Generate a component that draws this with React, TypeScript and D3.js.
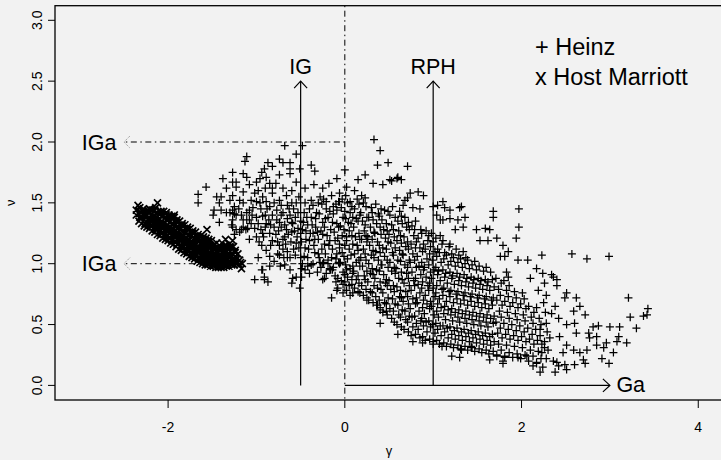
import React from "react";
import * as d3 from "d3";

// ---- axes ----
const xTicks = [-2, 0, 2, 4];
const yTicks = [0, 0.5, 1, 1.5, 2, 2.5, 3];
const yTickLabels = ["0.0", "0.5", "1.0", "1.5", "2.0", "2.5", "3.0"];
const xDomain: [number, number] = [-3.28, 4.28];
const yDomain: [number, number] = [-0.12, 3.12];
const xTitle = "γ";
const yTitle = "ν";

// ---- legend ----
const legendLines = ["+ Heinz", "x Host Marriott"];

// ---- annotation geometry (data space) ----
const vArrows = [
  { x: -0.5, y0: 0, y1: 2.5, label: "IG" },
  { x: 1, y0: 0, y1: 2.5, label: "RPH" },
];
const hArrow = { y: 0, x0: 0, x1: 3, label: "Ga" };
const dashArrows = [
  { y: 2, x0: 0, x1: -2.5, label: "IGa" },
  { y: 1, x0: 0, x1: -2.5, label: "IGa" },
];
const vDashX = 0;

// ---- Host Marriott (x markers) ----
const hostMarriott: [number, number][] = [
  [-2.36,1.40],[-2.36,1.44],[-2.33,1.35],[-2.33,1.41],[-2.34,1.48],[-2.30,1.33],[-2.31,1.38],[-2.29,1.43],[-2.32,1.46],
  [-2.27,1.31],[-2.27,1.36],[-2.26,1.40],[-2.28,1.45],[-2.24,1.30],[-2.24,1.34],[-2.25,1.39],[-2.23,1.44],
  [-2.21,1.29],[-2.21,1.33],[-2.20,1.37],[-2.22,1.42],[-2.21,1.45],[-2.18,1.27],[-2.18,1.31],[-2.17,1.36],[-2.19,1.40],[-2.18,1.44],
  [-2.15,1.26],[-2.15,1.30],[-2.14,1.35],[-2.16,1.39],[-2.15,1.44],[-2.12,1.24],[-2.12,1.29],[-2.11,1.33],[-2.13,1.38],[-2.12,1.42],[-2.12,1.50],
  [-2.09,1.23],[-2.09,1.27],[-2.08,1.32],[-2.10,1.36],[-2.09,1.41],[-2.06,1.21],[-2.06,1.26],[-2.05,1.30],[-2.07,1.35],[-2.06,1.40],[-2.05,1.43],
  [-2.03,1.20],[-2.03,1.24],[-2.02,1.29],[-2.04,1.33],[-2.03,1.38],[-2.02,1.42],[-2.00,1.19],[-2.00,1.23],[-1.99,1.27],[-2.01,1.32],[-2.00,1.36],[-1.99,1.40],
  [-1.97,1.17],[-1.97,1.21],[-1.96,1.26],[-1.98,1.30],[-1.97,1.35],[-1.96,1.39],[-1.94,1.16],[-1.94,1.20],[-1.93,1.24],[-1.95,1.29],[-1.94,1.33],[-1.93,1.38],[-1.93,1.40],
  [-1.91,1.14],[-1.91,1.18],[-1.90,1.23],[-1.92,1.27],[-1.91,1.32],[-1.90,1.36],[-1.88,1.12],[-1.88,1.17],[-1.87,1.21],[-1.89,1.26],[-1.88,1.30],[-1.87,1.35],
  [-1.85,1.11],[-1.85,1.15],[-1.84,1.20],[-1.86,1.24],[-1.85,1.29],[-1.84,1.33],[-1.82,1.09],[-1.82,1.14],[-1.81,1.18],[-1.83,1.23],[-1.82,1.27],[-1.81,1.32],
  [-1.79,1.08],[-1.79,1.12],[-1.78,1.17],[-1.80,1.21],[-1.79,1.26],[-1.78,1.30],[-1.76,1.06],[-1.76,1.11],[-1.75,1.15],[-1.77,1.20],[-1.76,1.24],[-1.75,1.29],
  [-1.73,1.05],[-1.73,1.09],[-1.72,1.14],[-1.74,1.18],[-1.73,1.23],[-1.72,1.27],[-1.70,1.04],[-1.70,1.08],[-1.69,1.12],[-1.71,1.17],[-1.70,1.21],[-1.69,1.26],
  [-1.67,1.02],[-1.67,1.07],[-1.66,1.11],[-1.68,1.16],[-1.67,1.20],[-1.66,1.24],[-1.64,1.01],[-1.64,1.05],[-1.63,1.10],[-1.65,1.14],[-1.64,1.19],[-1.63,1.23],
  [-1.61,1.00],[-1.61,1.04],[-1.60,1.09],[-1.62,1.13],[-1.61,1.18],[-1.60,1.22],[-1.58,0.99],[-1.58,1.03],[-1.57,1.08],[-1.59,1.12],[-1.58,1.17],[-1.57,1.21],
  [-1.55,0.99],[-1.55,1.03],[-1.54,1.07],[-1.56,1.11],[-1.55,1.16],[-1.54,1.20],[-1.56,1.28],[-1.52,0.98],[-1.52,1.02],[-1.51,1.06],[-1.53,1.10],[-1.52,1.15],[-1.51,1.19],
  [-1.49,0.98],[-1.49,1.02],[-1.48,1.06],[-1.50,1.10],[-1.49,1.14],[-1.46,0.97],[-1.46,1.01],[-1.45,1.05],[-1.47,1.09],[-1.46,1.13],[-1.45,1.17],
  [-1.43,0.97],[-1.43,1.01],[-1.42,1.05],[-1.44,1.09],[-1.43,1.13],[-1.40,0.97],[-1.40,1.00],[-1.39,1.04],[-1.41,1.08],[-1.40,1.12],[-1.39,1.17],
  [-1.37,0.97],[-1.37,1.01],[-1.36,1.05],[-1.38,1.09],[-1.37,1.14],[-1.34,0.98],[-1.34,1.02],[-1.33,1.06],[-1.35,1.10],[-1.34,1.15],[-1.35,1.20],
  [-1.31,0.98],[-1.31,1.02],[-1.30,1.07],[-1.32,1.12],[-1.31,1.16],[-1.28,0.99],[-1.28,1.03],[-1.27,1.08],[-1.29,1.13],[-1.27,1.19],
  [-1.25,0.99],[-1.25,1.04],[-1.24,1.09],[-1.26,1.14],[-1.22,1.00],[-1.22,1.04],[-1.21,1.08],[-1.19,0.99],[-1.19,1.03],[-1.16,1.00],[-1.17,0.96],
];

const hostMarriottFill: [number, number][] = [
  [-2.32,1.38],[-2.32,1.43],[-2.26,1.33],[-2.26,1.38],[-2.26,1.42],[-2.20,1.31],[-2.20,1.35],[-2.20,1.40],[-2.20,1.44],
  [-2.14,1.28],[-2.14,1.32],[-2.14,1.37],[-2.14,1.41],[-2.14,1.46],[-2.08,1.25],[-2.08,1.30],[-2.08,1.34],[-2.08,1.39],[-2.08,1.43],
  [-2.02,1.22],[-2.02,1.27],[-2.02,1.31],[-2.02,1.36],[-2.02,1.40],[-1.96,1.19],[-1.96,1.23],[-1.96,1.28],[-1.96,1.32],[-1.96,1.37],
  [-1.90,1.16],[-1.90,1.20],[-1.90,1.25],[-1.90,1.29],[-1.90,1.34],[-1.84,1.13],[-1.84,1.17],[-1.84,1.22],[-1.84,1.26],[-1.84,1.31],
  [-1.78,1.10],[-1.78,1.14],[-1.78,1.19],[-1.78,1.23],[-1.78,1.28],[-1.72,1.07],[-1.72,1.11],[-1.72,1.16],[-1.72,1.20],[-1.72,1.25],
  [-1.66,1.04],[-1.66,1.09],[-1.66,1.13],[-1.66,1.18],[-1.66,1.22],[-1.60,1.02],[-1.60,1.06],[-1.60,1.11],[-1.60,1.15],[-1.60,1.20],
  [-1.54,1.01],[-1.54,1.05],[-1.54,1.09],[-1.54,1.13],[-1.54,1.18],[-1.48,1.00],[-1.48,1.04],[-1.48,1.08],[-1.48,1.12],[-1.48,1.16],
  [-1.42,0.99],[-1.42,1.03],[-1.42,1.07],[-1.42,1.11],[-1.42,1.15],[-1.36,0.99],[-1.36,1.03],[-1.36,1.07],[-1.36,1.12],
  [-1.30,1.00],[-1.30,1.05],[-1.30,1.10],[-1.30,1.14],[-1.24,1.01],[-1.24,1.06],[-1.24,1.11],[-1.18,1.01],
];

// ---- Heinz (+ markers) ----
const heinzUpper: [number, number][] = [
  [0.33,2.02],[0.40,1.93],[0.49,1.83],[0.37,1.81],[-0.68,1.97],[-0.48,1.97],[-0.55,1.90],[-1.11,1.88],[-1.13,1.84],[-0.87,1.83],
  [-0.74,1.86],[-0.70,1.83],[-0.62,1.83],[-0.38,1.81],[-0.34,1.76],[-0.62,1.78],[-0.51,1.78],[-0.82,1.80],[-0.94,1.75],[-0.91,1.78],
  [-0.74,1.73],[-0.62,1.74],[0.0,1.77],[-0.09,1.70],[0.15,1.69],[0.23,1.73],[0.32,1.66],[0.43,1.65],[0.53,1.68],[0.59,1.70],
  [-1.27,1.75],[-1.23,1.67],[-1.11,1.71],[-1.08,1.65],[-1.0,1.67],[-0.96,1.70],[-0.89,1.71],[-0.85,1.66],[-0.82,1.62],[-0.55,1.67],
  [-0.60,1.60],[-1.15,1.59],[-1.02,1.58],[-0.93,1.55],[-0.82,1.58],[-0.74,1.52],[-0.89,1.51],[-1.30,1.52],[-1.25,1.47],[-1.15,1.50],
  [-1.08,1.44],[-1.0,1.51],[-0.66,1.56],[-0.65,1.48],[-0.77,1.44],[-0.85,1.47],[-0.38,1.52],[-0.28,1.55],[-0.21,1.51],[-0.13,1.47],
  [-0.06,1.58],[0.02,1.63],[0.11,1.60],[0.19,1.56],[-0.06,1.51],[0.06,1.51],
  [-1.66,1.57],[-1.57,1.63],[-1.45,1.55],[-1.42,1.50],[-1.48,1.44],[-1.42,1.34],[-1.15,1.74],[-1.27,1.67],[-1.38,1.70],[-1.34,1.62],
  [-1.27,1.56],[-1.23,1.63],[-1.19,1.52],[-1.49,1.40],[-1.34,1.42],[-1.27,1.44],[-1.27,1.36],[-1.15,1.36],[-1.11,1.42],
  [-1.66,1.50],[-1.40,1.55],[-1.06,1.52],[-1.40,1.44],[-1.25,1.41],[-1.17,1.40],[-1.28,1.32],[-1.23,1.28],[-1.17,1.28],[-1.11,1.36],
  [-1.06,1.33],[-1.25,1.24],[-1.19,1.26],[-1.10,1.29],
];

const heinzLeft: [number, number][] = [
  [-1.23,1.40],[-1.15,1.30],[-1.27,1.30],[-1.30,1.42],[-1.08,1.36],[-1.02,1.29],[-0.93,1.39],[-0.89,1.33],[-0.85,1.25],[-0.77,1.36],
  [-0.72,1.40],[-0.65,1.37],[-0.59,1.33],[-0.53,1.29],[-0.60,1.26],[-0.68,1.22],[-0.93,1.25],[-0.82,1.19],[-0.94,1.15],[-0.89,1.11],
  [-0.74,1.15],[-0.65,1.10],[-0.55,1.17],[-0.45,1.13],[-0.40,1.19],[-0.34,1.09],[-0.42,1.05],[-0.85,1.06],[-0.74,1.07],[-0.65,1.05],
  [-0.68,0.99],[-0.94,0.95],[-0.91,0.89],[-0.85,0.98],[-0.49,0.96],[-0.55,0.89],[-0.38,0.99],[-0.28,1.01],[-0.31,0.93],[-0.19,1.03],
  [-0.17,0.96],[-1.02,0.87],[-0.93,0.95],[-0.91,0.87],[-0.87,0.85],[-0.60,0.84],[-0.59,0.88],[-0.49,0.89],[-0.51,0.80],[-0.25,0.87],
  [-1.05,1.40],[-0.98,1.33],[-1.0,1.22],[-0.95,1.28],[-0.9,1.40],[-0.86,1.36],[-0.8,1.30],[-0.78,1.24],[-0.72,1.30],[-0.7,1.20],
  [-0.66,1.28],[-0.62,1.40],[-0.58,1.45],[-0.56,1.38],[-0.54,1.22],[-0.5,1.35],[-0.48,1.28],[-0.46,1.42],[-0.44,1.20],[-0.42,1.32],
  [-0.40,1.45],[-0.38,1.38],[-0.36,1.25],[-0.35,1.15],[-0.33,1.30],[-0.32,1.42],[-0.3,1.08],[-0.5,1.05],[-0.58,1.12],[-0.62,1.05],
  [-0.7,1.12],[-0.76,1.08],[-0.8,1.02],[-0.45,1.50],[-0.52,1.55],[-0.6,1.50],[-0.7,1.42],[-0.95,1.45],[-1.12,1.28],[-1.2,1.45],
  [-0.98,1.60],[-0.9,1.62],[-0.78,1.66],[-0.7,1.62],[-0.45,1.62],[-0.35,1.65],[-0.25,1.62],[-0.18,1.66],[-0.42,0.98],[-0.36,1.0],
  [-0.25,1.0],[-0.22,1.08],[-0.48,1.0],[-0.45,0.95],[-0.40,0.92],
  [-1.08,1.2],[-1.04,1.46],[-1.0,1.38],[-0.97,1.18],[-0.96,1.5],[-0.92,1.22],[-0.9,1.3],[-0.88,1.45],[-0.84,1.15],[-0.84,1.32],
  [-0.82,1.4],[-0.8,1.5],[-0.76,1.18],[-0.75,1.27],[-0.74,1.34],[-0.72,1.48],[-0.69,1.05],[-0.68,1.32],[-0.67,1.16],[-0.64,1.24],
  [-0.63,1.45],[-0.61,1.18],[-0.6,1.34],[-0.57,1.27],[-0.56,1.07],[-0.55,1.5],[-0.53,1.42],[-0.52,1.13],[-0.5,1.25],[-0.49,1.18],
  [-0.47,1.34],[-0.46,1.06],[-0.44,1.27],[-0.43,1.38],[-0.41,1.12],[-0.39,1.25],[-0.37,1.32],[-0.36,1.48],[-0.34,1.2],[-0.33,1.37],
  [-0.31,1.26],[-0.3,1.5],[-0.98,1.05],[-0.73,0.98],[-0.62,0.95],
];

const heinzCoreA: [number, number][] = [
  [-0.27,0.97],[-0.29,1.05],[-0.26,1.12],[-0.3,1.2],[-0.27,1.27],[-0.25,1.34],[-0.29,1.41],[-0.26,1.49],
  [-0.21,0.92],[-0.19,1.0],[-0.22,1.08],[-0.18,1.15],[-0.2,1.23],[-0.23,1.3],[-0.19,1.38],[-0.21,1.45],
  [-0.11,0.9],[-0.13,0.97],[-0.1,1.04],[-0.14,1.12],[-0.11,1.19],[-0.12,1.26],[-0.09,1.33],[-0.13,1.41],[-0.1,1.49],
  [-0.04,0.86],[-0.02,0.93],[-0.05,1.01],[-0.03,1.09],[-0.06,1.16],[-0.03,1.23],[-0.05,1.31],[-0.02,1.38],[-0.04,1.46],[-0.03,1.53],
  [0.05,0.82],[0.03,0.89],[0.06,0.96],[0.03,1.04],[0.05,1.12],[0.02,1.19],[0.05,1.27],[0.04,1.34],[0.06,1.42],[0.03,1.5],
  [0.11,0.8],[0.13,0.87],[0.1,0.94],[0.13,1.01],[0.11,1.08],[0.14,1.15],[0.12,1.22],[0.1,1.3],[0.13,1.37],[0.11,1.45],[0.14,1.53],
  [0.21,0.74],[0.19,0.82],[0.22,0.9],[0.2,0.98],[0.18,1.05],[0.21,1.12],[0.19,1.2],[0.22,1.27],[0.2,1.35],[0.18,1.42],[0.21,1.5],
  [0.27,0.7],[0.29,0.77],[0.26,0.85],[0.29,0.92],[0.27,1.0],[0.3,1.07],[0.28,1.15],[0.26,1.22],[0.29,1.3],[0.27,1.38],[0.3,1.46],
  [0.37,0.66],[0.35,0.73],[0.37,0.8],[0.34,0.88],[0.36,0.95],[0.38,1.03],[0.35,1.1],[0.37,1.18],[0.34,1.25],[0.36,1.33],[0.38,1.41],[0.35,1.49],
  [0.43,0.6],[0.45,0.68],[0.43,0.76],[0.46,0.84],[0.44,0.91],[0.42,0.99],[0.45,1.06],[0.43,1.13],[0.46,1.21],[0.44,1.28],[0.42,1.36],[0.45,1.44],
  [0.53,0.55],[0.51,0.63],[0.54,0.71],[0.52,0.79],[0.5,0.86],[0.53,0.94],[0.51,1.01],[0.54,1.09],[0.52,1.17],[0.5,1.24],[0.53,1.32],[0.51,1.4],
  [0.59,0.5],[0.61,0.58],[0.6,0.66],[0.62,0.73],[0.59,0.81],[0.61,0.88],[0.58,0.96],[0.6,1.03],[0.62,1.11],[0.59,1.19],[0.61,1.27],[0.6,1.35],[0.62,1.43],
  [0.67,0.46],[0.69,0.54],[0.68,0.61],[0.66,0.69],[0.69,0.77],[0.67,0.84],[0.7,0.92],[0.68,0.99],[0.66,1.07],[0.69,1.14],[0.67,1.22],[0.7,1.3],[0.68,1.38],
  [-0.23,0.88],[-0.10,0.85],[-0.08,0.80],[-0.15,0.72],[0.0,0.85],[0.02,0.78],[0.08,0.83],[0.09,0.76],[0.15,0.77],[0.25,0.72],
  [0.36,0.66],[0.40,0.62],[0.47,0.61],[-0.09,0.78],[-0.02,0.76],[0.06,0.74],[-0.02,0.83],[-0.14,0.95],[-0.06,1.00],[0.02,0.95],
  [0.09,0.98],[0.17,0.76],[0.25,0.70],[0.40,0.51],[0.60,0.42],
];

const heinzCoreAFill: [number, number][] = [
  [-0.24,1.01],[-0.23,1.16],[-0.25,1.24],[-0.22,1.37],[-0.24,1.53],
  [-0.16,0.95],[-0.15,1.05],[-0.17,1.19],[-0.16,1.28],[-0.14,1.34],[-0.17,1.43],[-0.15,1.56],
  [-0.08,0.88],[-0.07,1.01],[-0.09,1.08],[-0.06,1.13],[-0.08,1.21],[-0.07,1.3],[-0.09,1.44],[-0.07,1.51],
  [0.0,0.91],[0.01,0.99],[-0.01,1.06],[0.0,1.15],[0.02,1.22],[-0.01,1.28],[0.01,1.37],[0.0,1.43],[0.01,1.56],
  [0.08,0.87],[0.09,0.92],[0.07,1.07],[0.09,1.16],[0.08,1.23],[0.07,1.33],[0.09,1.38],[0.08,1.47],
  [0.16,0.84],[0.15,0.9],[0.17,0.98],[0.16,1.03],[0.15,1.11],[0.17,1.2],[0.16,1.25],[0.15,1.35],[0.17,1.4],[0.16,1.49],
  [0.24,0.79],[0.23,0.87],[0.25,0.94],[0.24,1.03],[0.23,1.08],[0.25,1.18],[0.24,1.23],[0.23,1.32],[0.25,1.38],[0.24,1.47],[0.23,1.54],
  [0.32,0.68],[0.31,0.76],[0.33,0.82],[0.32,0.91],[0.31,0.96],[0.33,1.05],[0.32,1.11],[0.31,1.2],[0.33,1.26],[0.32,1.36],[0.31,1.42],
  [0.40,0.64],[0.39,0.7],[0.41,0.79],[0.40,0.85],[0.39,0.94],[0.41,0.99],[0.40,1.09],[0.39,1.15],[0.41,1.24],[0.40,1.3],[0.39,1.39],[0.41,1.45],
  [0.48,0.58],[0.47,0.67],[0.49,0.72],[0.48,0.82],[0.47,0.87],[0.49,0.97],[0.48,1.03],[0.47,1.12],[0.49,1.18],[0.48,1.27],[0.47,1.33],[0.49,1.43],
  [0.56,0.52],[0.55,0.61],[0.57,0.67],[0.56,0.77],[0.55,0.82],[0.57,0.92],[0.56,0.97],[0.55,1.07],[0.57,1.13],[0.56,1.22],[0.55,1.28],[0.57,1.38],
  [0.64,0.48],[0.63,0.56],[0.65,0.62],[0.64,0.72],[0.63,0.78],[0.65,0.87],[0.64,0.93],[0.63,1.02],[0.65,1.08],[0.64,1.17],[0.63,1.23],[0.65,1.33],[0.64,1.39],
  [0.72,0.44],[0.71,0.52],[0.73,0.57],[0.72,0.67],[0.71,0.73],[0.73,0.82],[0.72,0.88],[0.71,0.97],[0.73,1.03],[0.72,1.12],[0.71,1.18],[0.73,1.28],[0.72,1.34],
];

const heinzCoreB: [number, number][] = [
  [0.75,0.41],[0.77,0.48],[0.76,0.56],[0.74,0.63],[0.77,0.71],[0.75,0.78],[0.78,0.86],[0.76,0.93],[0.74,1.01],[0.77,1.08],[0.75,1.16],[0.78,1.23],[0.76,1.31],
  [0.85,0.39],[0.83,0.46],[0.86,0.53],[0.84,0.61],[0.82,0.68],[0.85,0.76],[0.83,0.83],[0.86,0.91],[0.84,0.98],[0.82,1.06],[0.85,1.13],[0.83,1.21],[0.86,1.28],
  [0.91,0.37],[0.93,0.44],[0.92,0.52],[0.9,0.59],[0.93,0.67],[0.91,0.74],[0.94,0.82],[0.92,0.89],[0.9,0.97],[0.93,1.04],[0.91,1.12],[0.94,1.19],[0.92,1.27],
  [1.0,0.36],[1.02,0.43],[0.99,0.5],[1.01,0.58],[0.98,0.65],[1.02,0.73],[1.0,0.8],[0.98,0.88],[1.01,0.95],[0.99,1.03],[1.02,1.1],[1.0,1.18],[0.98,1.25],
  [1.07,0.34],[1.09,0.41],[1.08,0.49],[1.06,0.56],[1.09,0.64],[1.07,0.71],[1.1,0.79],[1.08,0.86],[1.06,0.94],[1.09,1.01],[1.07,1.09],[1.1,1.16],[1.08,1.23],
  [1.15,0.32],[1.17,0.39],[1.16,0.47],[1.14,0.54],[1.17,0.62],[1.15,0.69],[1.18,0.77],[1.16,0.84],[1.14,0.92],[1.17,0.99],[1.15,1.07],[1.18,1.14],
  [1.23,0.31],[1.25,0.38],[1.24,0.45],[1.22,0.53],[1.25,0.6],[1.23,0.68],[1.26,0.75],[1.24,0.83],[1.22,0.9],[1.25,0.98],[1.23,1.05],[1.26,1.12],
  [1.31,0.3],[1.33,0.37],[1.32,0.44],[1.3,0.52],[1.33,0.59],[1.31,0.67],[1.34,0.74],[1.32,0.82],[1.3,0.89],[1.33,0.97],[1.31,1.04],[1.34,1.1],
  [1.39,0.29],[1.41,0.36],[1.4,0.43],[1.38,0.51],[1.41,0.58],[1.39,0.66],[1.42,0.73],[1.4,0.81],[1.38,0.88],[1.41,0.96],[1.39,1.03],
  [1.47,0.28],[1.49,0.35],[1.48,0.42],[1.46,0.5],[1.49,0.57],[1.47,0.65],[1.5,0.72],[1.48,0.8],[1.46,0.87],[1.49,0.95],[1.47,1.02],
  [1.55,0.27],[1.57,0.34],[1.56,0.41],[1.54,0.49],[1.57,0.56],[1.55,0.64],[1.58,0.71],[1.56,0.79],[1.54,0.86],[1.57,0.94],
  [1.63,0.26],[1.65,0.33],[1.64,0.4],[1.62,0.48],[1.65,0.55],[1.63,0.63],[1.66,0.7],[1.64,0.78],[1.62,0.85],[1.65,0.93],
  [0.71,1.80],[0.60,1.71],[0.64,1.69],[0.51,1.69],[0.74,1.58],[0.83,1.59],[0.89,1.56],[0.59,1.54],[0.68,1.52],[0.71,1.54],
  [0.66,1.48],[0.77,1.46],[0.85,1.45],[0.54,1.47],[1.11,1.51],[1.13,1.46],[1.05,1.48],[1.32,1.47],[1.30,1.46],[1.68,1.43],
  [1.68,1.38],[1.97,1.45],[1.97,1.30],[1.94,1.21],[1.04,1.40],[1.19,1.37],[1.28,1.36],[1.36,1.38],[1.11,1.36],[1.34,1.30],
  [1.25,1.28],[1.49,1.28],[1.59,1.29],[1.64,1.28],[1.72,1.21],[1.62,1.19],[1.53,1.19],[1.79,1.15],[1.85,1.10],[1.81,1.06],
  [1.76,1.06],[1.83,0.93],[1.85,0.89],[1.0,1.47],[1.08,1.36],[1.19,1.44],
  [0.77,0.36],[0.88,0.35],[1.0,0.34],[1.10,0.32],[1.21,0.24],[1.30,0.23],[1.32,0.29],[1.43,0.32],[1.64,0.21],[1.79,0.20],
  [1.81,0.23],[1.72,0.24],[1.79,0.18],
];

const heinzCoreBFill: [number, number][] = [
  [0.80,0.42],[0.81,0.51],[0.79,0.57],[0.80,0.67],[0.81,0.72],[0.79,0.82],[0.80,0.88],[0.81,0.97],[0.79,1.03],[0.80,1.13],[0.81,1.18],[0.79,1.28],[0.80,1.35],
  [0.88,0.40],[0.89,0.49],[0.87,0.55],[0.88,0.64],[0.89,0.7],[0.87,0.8],[0.88,0.85],[0.89,0.95],[0.87,1.01],[0.88,1.1],[0.89,1.16],[0.87,1.25],
  [0.96,0.38],[0.97,0.48],[0.95,0.53],[0.96,0.63],[0.97,0.69],[0.95,0.78],[0.96,0.84],[0.97,0.93],[0.95,0.99],[0.96,1.08],[0.97,1.14],[0.95,1.23],
  [1.04,0.37],[1.05,0.46],[1.03,0.51],[1.04,0.61],[1.05,0.67],[1.03,0.76],[1.04,0.82],[1.05,0.91],[1.03,0.97],[1.04,1.06],[1.05,1.12],[1.03,1.21],
  [1.12,0.35],[1.13,0.44],[1.11,0.49],[1.12,0.59],[1.13,0.65],[1.11,0.74],[1.12,0.8],[1.13,0.89],[1.11,0.95],[1.12,1.04],[1.13,1.09],[1.11,1.19],
  [1.20,0.34],[1.21,0.42],[1.19,0.48],[1.20,0.58],[1.21,0.63],[1.19,0.73],[1.20,0.78],[1.21,0.88],[1.19,0.93],[1.20,1.02],[1.21,1.08],[1.19,1.16],
  [1.28,0.33],[1.29,0.41],[1.27,0.47],[1.28,0.56],[1.29,0.62],[1.27,0.71],[1.28,0.77],[1.29,0.86],[1.27,0.92],[1.28,1.01],[1.29,1.07],
  [1.36,0.32],[1.37,0.4],[1.35,0.46],[1.36,0.55],[1.37,0.61],[1.35,0.7],[1.36,0.76],[1.37,0.85],[1.35,0.91],[1.36,1.0],[1.37,1.05],
  [1.44,0.31],[1.45,0.39],[1.43,0.45],[1.44,0.54],[1.45,0.6],[1.43,0.69],[1.44,0.75],[1.45,0.84],[1.43,0.89],[1.44,0.99],
  [1.52,0.30],[1.53,0.38],[1.51,0.44],[1.52,0.53],[1.53,0.59],[1.51,0.68],[1.52,0.74],[1.53,0.83],[1.51,0.88],[1.52,0.98],
  [1.60,0.29],[1.61,0.37],[1.59,0.43],[1.60,0.52],[1.61,0.58],[1.59,0.67],[1.60,0.73],[1.61,0.82],[1.59,0.87],[1.60,0.97],
  [1.68,0.28],[1.69,0.36],[1.67,0.42],[1.68,0.51],[1.69,0.57],[1.67,0.66],[1.68,0.72],[1.69,0.81],[1.67,0.87],
];

const heinzCoreC: [number, number][] = [
  [1.72,0.25],[1.74,0.34],[1.73,0.43],[1.71,0.52],[1.75,0.61],[1.72,0.7],[1.74,0.79],[1.71,0.88],
  [1.81,0.24],[1.83,0.33],[1.82,0.42],[1.8,0.51],[1.84,0.6],[1.81,0.69],[1.83,0.78],[1.8,0.86],
  [1.9,0.23],[1.92,0.32],[1.91,0.41],[1.89,0.5],[1.93,0.59],[1.9,0.68],[1.92,0.77],
  [1.99,0.22],[2.01,0.31],[2.0,0.4],[1.98,0.49],[2.02,0.58],[1.99,0.67],[2.01,0.76],
  [2.08,0.2],[2.1,0.29],[2.09,0.38],[2.07,0.47],[2.11,0.56],[2.08,0.65],
  [2.17,0.19],[2.19,0.28],[2.18,0.37],[2.16,0.46],[2.2,0.55],[2.17,0.64],
  [2.28,0.22],[2.26,0.31],[2.29,0.44],[2.27,0.6],
  [1.77,0.29],[1.78,0.39],[1.76,0.47],[1.77,0.56],[1.78,0.66],[1.76,0.74],[1.77,0.84],
  [1.86,0.27],[1.87,0.38],[1.85,0.46],[1.86,0.55],[1.87,0.65],[1.85,0.73],[1.86,0.82],
  [1.95,0.26],[1.96,0.37],[1.94,0.45],[1.95,0.54],[1.96,0.64],[1.94,0.72],
  [2.04,0.25],[2.05,0.36],[2.03,0.44],[2.04,0.53],[2.05,0.63],[2.03,0.71],
  [2.13,0.24],[2.14,0.34],[2.12,0.42],[2.13,0.51],[2.14,0.6],
  [2.22,0.22],[2.23,0.34],[2.21,0.41],[2.22,0.5],
];

const heinzTail: [number, number][] = [
  [1.96,0.23],[2.06,0.24],[2.13,0.16],[2.24,0.15],[2.17,0.18],[2.38,0.11],[2.23,1.07],[2.07,1.03],[1.96,1.03],[2.17,0.96],
  [2.24,0.92],[2.36,0.89],[2.10,0.88],[2.26,0.84],[2.40,0.82],[2.19,0.78],[2.28,0.74],
  [2.57,1.08],[2.74,1.04],[2.99,1.06],[3.21,0.72],[3.23,0.56],[3.43,0.63],[3.42,0.58],[3.38,0.57],[3.30,0.47],
  [3.19,0.35],[2.99,0.18],[3.04,0.27],[3.08,0.36],[3.10,0.40],[2.87,0.49],[3.0,0.48],[3.11,0.48],[2.81,0.48],[2.91,0.22],
  [2.72,0.18],[2.40,0.87],[2.34,0.91],[2.51,0.76],[2.62,0.72],[2.49,0.72],[2.66,0.65],[2.59,0.61],[2.72,0.58],[2.38,0.65],
  [2.25,0.68],[2.34,0.59],[2.42,0.55],[2.28,0.51],[2.51,0.50],[2.60,0.51],[2.62,0.43],[2.76,0.43],[2.77,0.39],[2.85,0.40],
  [2.85,0.33],[2.96,0.35],[2.93,0.31],[2.43,0.40],[2.32,0.39],[2.51,0.33],[2.59,0.29],[2.47,0.27],[2.66,0.27],[2.74,0.29],
  [2.36,0.20],[2.42,0.16],[2.49,0.17],[2.60,0.17],[2.70,0.21],[2.21,0.46],[2.26,0.36],[2.30,0.29],[2.23,0.27],
  [2.21,0.11],[2.40,0.19],[2.51,0.13],
];

const heinz = [
  ...heinzUpper, ...heinzLeft, ...heinzCoreA, ...heinzCoreAFill,
  ...heinzCoreB, ...heinzCoreBFill, ...heinzCoreC, ...heinzTail,
];
const host = [...hostMarriott, ...hostMarriottFill];

const W = 721;
const H = 460;
const plot = { left: 55, right: 723, top: 5.7, bottom: 400 };
const FONT = "'Liberation Sans', Arial, Helvetica, sans-serif";
const DASH = "1.5 3.5 6 3.5";

export default function App() {
  const x = d3.scaleLinear().domain(xDomain).range([plot.left, plot.right]);
  const y = d3.scaleLinear().domain(yDomain).range([plot.bottom, plot.top]);

  const plusPath = heinz
    .map(([a, b]) => {
      const px = x(a), py = y(b);
      return `M${px - 4},${py}h8M${px},${py - 4}v8`;
    })
    .join("");
  const crossPath = host
    .map(([a, b]) => {
      const px = x(a), py = y(b);
      return `M${px - 3.5},${py - 3.5}l7,7M${px - 3.5},${py + 3.5}l7,-7`;
    })
    .join("");

  return (
    <svg
      width={W}
      height={H}
      style={{ position: "absolute", left: 0, top: 0, fontFamily: FONT }}
    >
      <rect x={0} y={0} width={W} height={H} fill="#f2f2f2" />

      {/* points */}
      <path d={plusPath} stroke="#000" strokeWidth={1.25} fill="none" />
      <path d={crossPath} stroke="#000" strokeWidth={1.7} fill="none" />

      {/* vertical dash-dot at 0 */}
      <line x1={x(vDashX)} x2={x(vDashX)} y1={plot.top} y2={plot.bottom} stroke="#000" strokeWidth={1} strokeDasharray={DASH} />

      {/* horizontal dash-dot arrows */}
      {dashArrows.map((d, i) => (
        <g key={"da" + i}>
          <line x1={x(d.x0)} x2={x(d.x1)} y1={y(d.y)} y2={y(d.y)} stroke="#000" strokeWidth={1} strokeDasharray={DASH} />
          <path
            d={`M${x(d.x1) + 6},${y(d.y) - 6}L${x(d.x1)},${y(d.y)}L${x(d.x1) + 6},${y(d.y) + 6}`}
            stroke="#888" strokeWidth={1} fill="none" strokeDasharray="1 1.2"
          />
          <text x={x(d.x1) - 7.5} y={y(d.y) + 7.6} fontSize={21.5} textAnchor="end" fill="#000">
            {d.label}
          </text>
        </g>
      ))}

      {/* vertical solid arrows */}
      {vArrows.map((d, i) => (
        <g key={"va" + i}>
          <line x1={x(d.x)} x2={x(d.x)} y1={y(d.y0)} y2={y(d.y1)} stroke="#000" strokeWidth={1.2} />
          <path
            d={`M${x(d.x) - 6.5},${y(d.y1) + 7}L${x(d.x)},${y(d.y1)}L${x(d.x) + 6.5},${y(d.y1) + 7}`}
            stroke="#000" strokeWidth={1.2} fill="none"
          />
          <text x={x(d.x)} y={74} fontSize={21.5} textAnchor="middle" fill="#000">
            {d.label}
          </text>
        </g>
      ))}

      {/* horizontal solid arrow */}
      <line x1={x(hArrow.x0)} x2={x(hArrow.x1)} y1={y(hArrow.y)} y2={y(hArrow.y)} stroke="#000" strokeWidth={1.2} />
      <path
        d={`M${x(hArrow.x1) - 7},${y(hArrow.y) - 6.5}L${x(hArrow.x1)},${y(hArrow.y)}L${x(hArrow.x1) - 7},${y(hArrow.y) + 6.5}`}
        stroke="#000" strokeWidth={1.2} fill="none"
      />
      <text x={x(hArrow.x1) + 6.5} y={y(hArrow.y) + 6.8} fontSize={21.5} fill="#000">
        {hArrow.label}
      </text>

      {/* legend */}
      {legendLines.map((t, i) => (
        <text key={"lg" + i} x={535} y={55 + i * 30} fontSize={23.5} fill="#000">
          {t}
        </text>
      ))}

      {/* box */}
      <rect
        x={plot.left}
        y={plot.top}
        width={plot.right - plot.left}
        height={plot.bottom - plot.top}
        fill="none"
        stroke="#000"
        strokeWidth={1.3}
      />

      {/* x axis */}
      {xTicks.map((t) => (
        <g key={"xt" + t}>
          <line x1={x(t)} x2={x(t)} y1={plot.bottom} y2={plot.bottom + 8} stroke="#000" strokeWidth={1} />
          <text x={x(t)} y={431.7} fontSize={14} textAnchor="middle" fill="#000">
            {t < 0 ? "-" + Math.abs(t) : String(t)}
          </text>
        </g>
      ))}

      {/* y axis */}
      {yTicks.map((t, i) => (
        <g key={"yt" + t}>
          <line x1={plot.left - 7} x2={plot.left} y1={y(t)} y2={y(t)} stroke="#000" strokeWidth={1} />
          <text
            transform={`translate(41.7,${y(t)}) rotate(-90)`}
            fontSize={14}
            textAnchor="middle"
            fill="#000"
          >
            {yTickLabels[i]}
          </text>
        </g>
      ))}

      {/* axis titles */}
      <text x={(plot.left + plot.right) / 2} y={455} fontSize={13} textAnchor="middle" fill="#000">
        {xTitle}
      </text>
      <text
        transform={`translate(15,${(plot.top + plot.bottom) / 2}) rotate(-90)`}
        fontSize={13}
        textAnchor="middle"
        fill="#000"
      >
        {yTitle}
      </text>
    </svg>
  );
}
